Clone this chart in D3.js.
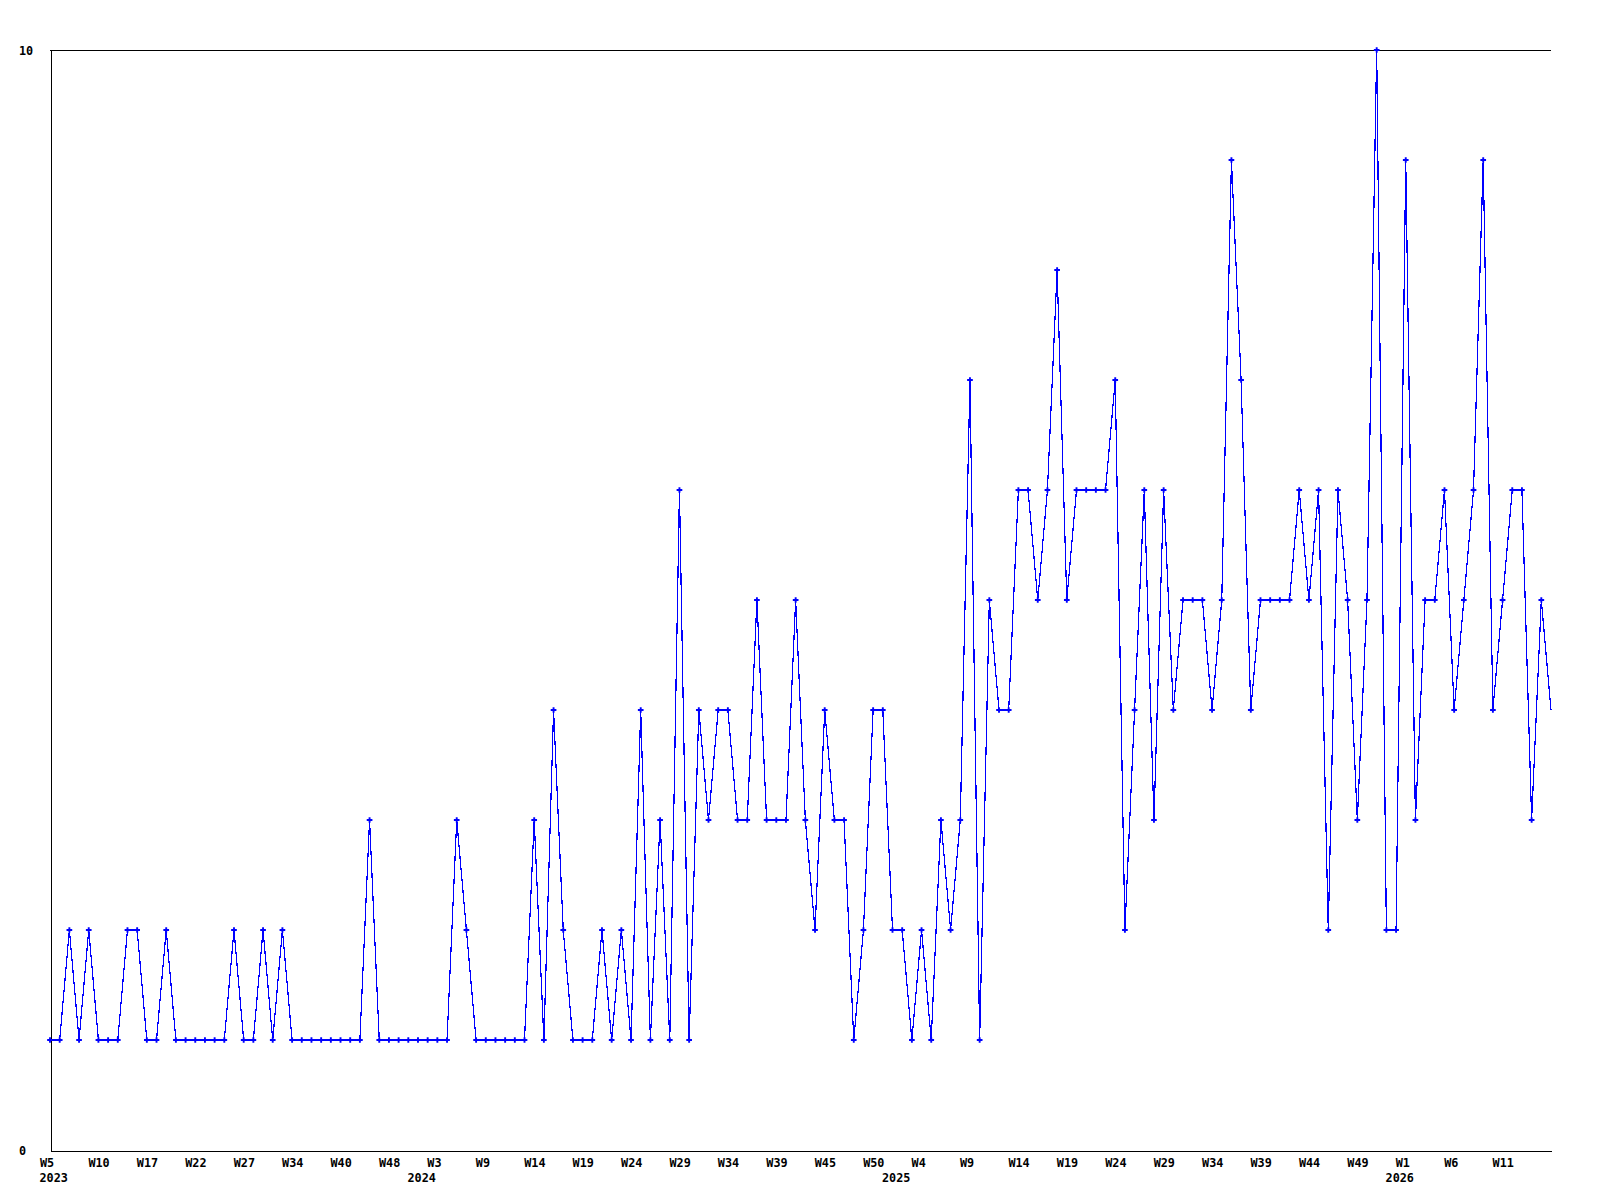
<!DOCTYPE html>
<html>
<head>
<meta charset="utf-8">
<script src="https://cdn.jsdelivr.net/npm/d3@7"></script>
<style>
  html, body { margin: 0; padding: 0; background: #ffffff; }
  svg { display: block; }
  text { font-family: "DejaVu Sans Mono", "Liberation Mono", monospace; font-weight: bold; font-size: 11.8px; fill: #000; }
</style>
</head>
<body>
<svg id="chart" width="1600" height="1200"></svg>
<script>
// Series values, one per plotted week (in order)
const values = [
  1,1,2,1,2,1,1,1,2,2,
  1,1,2,1,1,1,1,1,1,2,
  1,1,2,1,2,1,1,1,1,1,
  1,1,1,3,1,1,1,1,1,1,
  1,1,3,2,1,1,1,1,1,1,
  3,1,4,2,1,1,1,2,1,2,
  1,4,1,3,1,6,1,4,3,4,
  4,3,3,5,3,3,3,5,3,2,
  4,3,3,1,2,4,4,2,2,1,
  2,1,3,2,3,7,1,5,4,4,
  6,6,5,6,8,5,6,6,6,6,
  7,2,4,6,3,6,4,5,5,5,
  4,5,9,7,4,5,5,5,5,6,
  5,6,2,6,5,3,5,10,2,2,
  9,3,5,5,6,4,5,6,9,4,
  5,6,6,3,5,4
];
// Categories: point index
const categories = values.map((v, i) => i);
// Week tick labels, one every 5th point
const weekLabels = ["W5","W10","W17","W22","W27","W34","W40","W48",
  "W3","W9","W14","W19","W24","W29","W34","W39","W45","W50",
  "W4","W9","W14","W19","W24","W29","W34","W39","W44","W49",
  "W1","W6","W11"];
const labelStep = 5;
// Year labels and the point at which each year begins
const yearLabels = ["2023","2024","2025","2026"];
const yearStarts = [0, 38, 87, 139];
// Y-axis tick values
const yTicks = [0, 10];

const svg = d3.select("#chart");
const mLeft = 50, mRight = 1551, mTop = 50, mBottom = 1150;

const x = d3.scaleLinear().domain([0, categories.length - 1]).range([mLeft, mRight]);
const y = d3.scaleLinear().domain([0, 10]).range([mBottom, mTop]);

// top line (max gridline)
svg.append("line")
  .attr("x1", mLeft).attr("x2", mRight)
  .attr("y1", y(10) + 0.5).attr("y2", y(10) + 0.5)
  .attr("stroke", "#000").attr("stroke-width", 1)
  .attr("shape-rendering", "crispEdges");

// X axis
const tickIdx = weekLabels.map((d, k) => k * labelStep);
const xAxis = d3.axisBottom(x)
  .tickValues(tickIdx)
  .tickFormat((d, k) => weekLabels[k])
  .tickSize(0).tickSizeOuter(0).tickPadding(0);
const gx = svg.append("g")
  .attr("transform", `translate(0,${mBottom + 0.5})`)
  .call(xAxis);
gx.attr("font-family", null).attr("font-size", null);
gx.select(".domain").attr("stroke", "#000").attr("shape-rendering", "crispEdges");
gx.selectAll("text")
  .attr("text-anchor", "start")
  .attr("dx", -10.5)
  .attr("dy", null)
  .attr("y", 16)
  .attr("fill", null);

// Year labels
svg.append("g").selectAll("text")
  .data(yearLabels)
  .join("text")
  .attr("x", (d, i) => x(yearStarts[i]) - 10.5)
  .attr("y", mBottom + 32)
  .attr("text-anchor", "start")
  .text(d => d);

// Y axis
const yAxis = d3.axisLeft(y).tickValues(yTicks).tickSize(0).tickSizeOuter(0).tickPadding(0);
const gy = svg.append("g")
  .attr("transform", `translate(${mLeft + 0.5},0)`)
  .call(yAxis);
gy.attr("font-family", null).attr("font-size", null);
gy.select(".domain").attr("stroke", "#000").attr("shape-rendering", "crispEdges");
gy.selectAll("text")
  .attr("text-anchor", "start")
  .attr("x", 19 - mLeft - 0.5)
  .attr("dy", "0.35em")
  .attr("fill", null);

// Line
const line = d3.line()
  .x((d, i) => x(categories[i]))
  .y(d => y(d));
svg.append("path")
  .datum(values)
  .attr("d", line)
  .attr("fill", "none")
  .attr("stroke", "#0000ff")
  .attr("stroke-width", 1.2)
  .attr("shape-rendering", "crispEdges");

// Markers (last point has no marker)
const sym = d3.symbol().type(d3.symbolCross).size(18);
svg.append("g").selectAll("path")
  .data(values.slice(0, values.length - 1))
  .join("path")
  .attr("transform", (d, i) => `translate(${x(categories[i])},${y(d)})`)
  .attr("d", sym)
  .attr("fill", "#0000ff");
</script>
</body>
</html>
